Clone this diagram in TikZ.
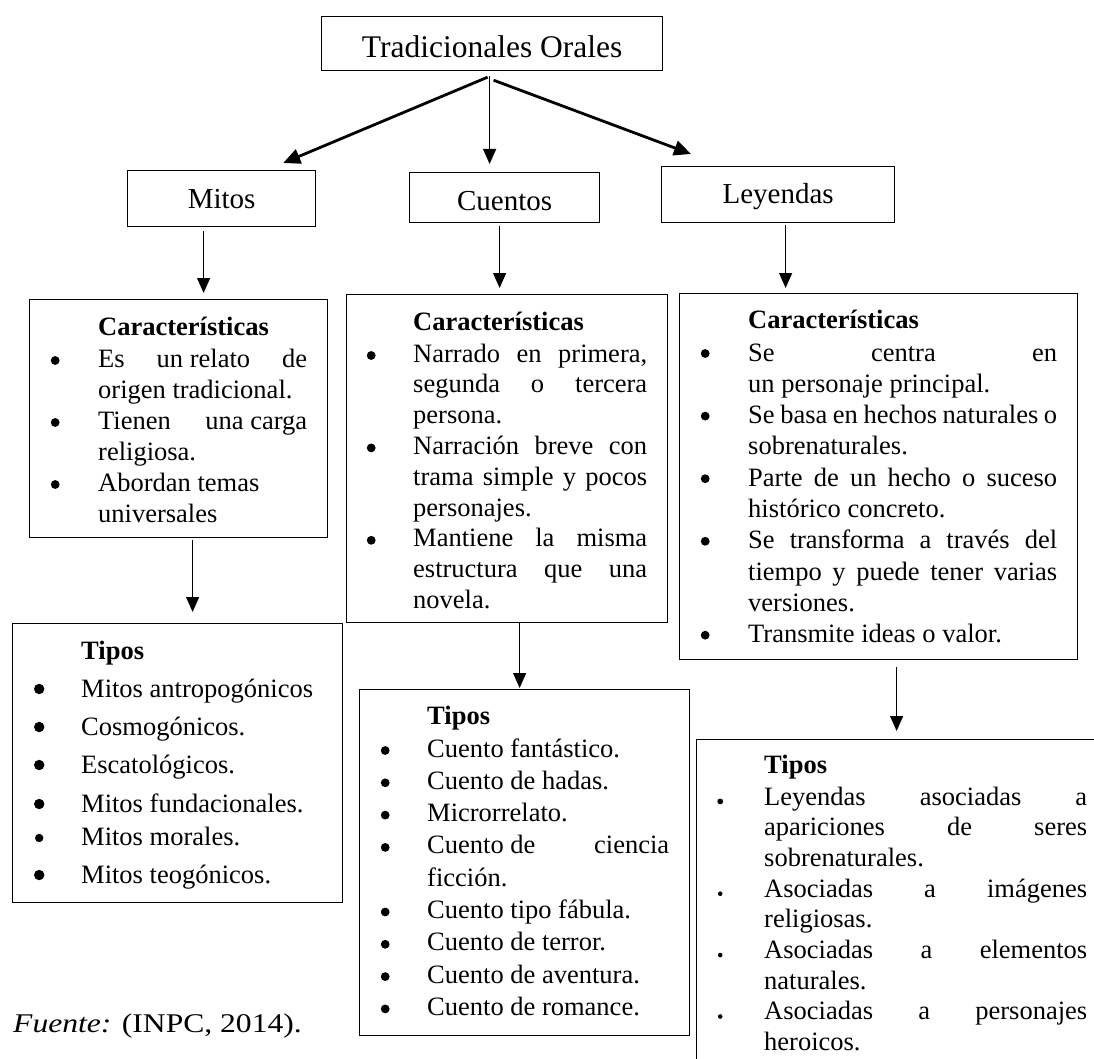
\documentclass[tikz,border=0pt]{standalone}
\usepackage{fontspec}
\setmainfont{Liberation Serif}
\usetikzlibrary{arrows.meta}
% bullet: #1 offset left of text, #2 height of centre above baseline, #3 radius
\newcommand\bul[3]{\leavevmode\llap{\makebox[0pt]{\tikz[baseline=-#2pt]\fill (0,0) circle (#3pt);}\hspace{#1pt}}}
\newcommand\bb[1][43]{\bul{#1}{6.5}{4.4}}
\newcommand\bbB{\bul{42}{8}{5.2}}
\newcommand\bs{\bul{44}{3.4}{2.3}}
\newcommand\jl[2]{\makebox[#1pt][s]{#2}}
\begin{document}
\begin{tikzpicture}[x=1pt,y=-1pt,
 box/.style={draw, line width=1.2pt, inner sep=0pt, anchor=north west},
 ttl/.style={box, font=\fontsize{29}{29}\selectfont},
 txt/.style={anchor=base west, inner sep=0pt},
 arr/.style={line width=1.2pt, -{Triangle[length=15pt,width=13pt]}},
 arrT/.style={line width=2.8pt, -{Triangle[length=17pt,width=15pt]}},
]
\useasboundingbox (0,0) rectangle (1094,1059);
\clip (0,0) rectangle (1094,1059);
\fill[white] (0,0) rectangle (1094,1059);

% header boxes
\node[ttl, font=\fontsize{31.5}{31.5}\selectfont, minimum width=341pt, text height=41pt, text depth=13pt] (top) at (321,16) {Tradicionales Orales};
\node[ttl, minimum width=188pt, text height=38pt, text depth=18pt] (mitos) at (127,170) {Mitos};
\node[ttl, minimum width=190pt, text height=38pt, text depth=12pt] (cuentos) at (409,172) {Cuentos};
\node[ttl, minimum width=233pt, text height=37pt, text depth=19pt] (leyendas) at (661,166) {Leyendas};

% content boxes
\node[box, minimum width=298pt, minimum height=238pt] (mitosC) at (29,299) {};
\node[box, minimum width=330pt, minimum height=279pt] (mitosT) at (12,623) {};
\node[box, minimum width=321pt, minimum height=328pt] (cuentosC) at (346,294) {};
\node[box, minimum width=330pt, minimum height=346pt] (cuentosT) at (359,689) {};
\node[box, minimum width=398pt, minimum height=366pt] (leyendasC) at (679,293) {};
\node[box, minimum width=420pt, minimum height=340pt] (leyendasT) at (696,739) {};

% texts
\node[txt] (mitosCt) at (98,335) {\parbox[t]{240pt}{\fontsize{26.5}{31}\selectfont\raggedright
\textbf{Características}\\[1pt]
\bb\jl{209}{Es\hfill un relato\hfill de}\\
origen tradicional.\\
\bb\jl{209}{Tienen\hfill una carga}\\
religiosa.\\
\bb Abordan temas\\
universales}};

\node[txt] (cuentosCt) at (413,330) {\parbox[t]{250pt}{\fontsize{26.5}{30.8}\selectfont\raggedright
\textbf{Características}\\[1.2pt]
\bb[42]\jl{234}{Narrado en primera,}\\
\jl{234}{segunda o tercera}\\
persona.\\
\bb[42]\jl{234}{Narración breve con}\\
\jl{234}{trama simple y pocos}\\
personajes.\\
\bb[42]\jl{234}{Mantiene la misma}\\
\jl{234}{estructura que una}\\
novela.}};

\node[txt] (leyendasCt) at (748,328) {\parbox[t]{320pt}{\fontsize{26.5}{31.3}\selectfont\raggedright
\textbf{Características}\\[1.7pt]
\bul{43}{7.5}{4.4}\jl{309}{Se\hfill centra\hfill en}\\
un personaje principal.\\
\bul{43}{7.5}{4.4}\jl{309}{Se basa en hechos naturales o}\\
sobrenaturales.\\
\bul{43}{7.5}{4.4}\jl{309}{Parte de un hecho o suceso}\\
histórico concreto.\\
\bul{43}{7.5}{4.4}\jl{309}{Se transforma a través del}\\
\jl{309}{tiempo y puede tener varias}\\
versiones.\\
\bul{43}{7.5}{4.4}Transmite ideas o valor.}};

\node[txt] (mitosTt) at (81,659) {\parbox[t]{260pt}{\fontsize{26.5}{38}\selectfont\raggedright
\textbf{Tipos}\\
\bbB Mitos antropogónicos\\
\bbB Cosmogónicos.\\
\bbB Escatológicos.\\[1pt]
\bbB Mitos fundacionales.\\[-5pt]
\bul{42}{7}{4.2}Mitos morales.\\
\bbB Mitos teogónicos.}};

\node[txt] (cuentosTt) at (427,724) {\parbox[t]{250pt}{\fontsize{26.5}{32.3}\selectfont\raggedright
\textbf{Tipos}\\[0.7pt]
\bb[42]Cuento fantástico.\\
\bb[42]Cuento de hadas.\\
\bb[42]Microrrelato.\\
\bb[42]\jl{242}{Cuento de\hfill ciencia}\\
ficción.\\
\bb[42]Cuento tipo fábula.\\
\bb[42]Cuento de terror.\\
\bb[42]Cuento de aventura.\\
\bb[42]Cuento de romance.}};

\node[txt] (leyendasTt) at (764,773) {\parbox[t]{330pt}{\fontsize{26.5}{30.7}\selectfont\raggedright
\textbf{Tipos}\\[1.3pt]
\bul{44}{3.6}{2.9}\jl{323}{Leyendas asociadas a}\\
\jl{323}{apariciones de seres}\\
sobrenaturales.\\
\bs\jl{323}{Asociadas a imágenes}\\
religiosas.\\
\bs\jl{323}{Asociadas a elementos}\\
naturales.\\
\bs\jl{323}{Asociadas a personajes}\\
heroicos.}};

\node[txt] (fuente) at (13,1032) {\fontsize{27}{27}\selectfont\scalebox{1.17}[1]{\textit{Fuente:} (INPC, 2014).}};

% connectors
\draw[arrT] ([xshift=-4.5pt,yshift=-6pt]top.south) -- ([xshift=-33pt,yshift=7pt]mitos.north east);
\draw[arr] ([xshift=-2.5pt,yshift=-5pt]top.south) -- ([xshift=-15pt,yshift=8pt]cuentos.north);
\draw[arrT] ([xshift=1.5pt,yshift=-9pt]top.south) -- ([xshift=30pt,yshift=12pt]leyendas.north west);

\draw[arr] ([xshift=-18pt,yshift=-4pt]mitos.south) -- ([xshift=25pt,yshift=6pt]mitosC.north);
\draw[arr] ([xshift=14pt,yshift=-2pt]mitosC.south) -- ([xshift=15pt,yshift=11pt]mitosT.north);
\draw[arr] ([xshift=-5pt,yshift=-3pt]cuentos.south) -- ([xshift=-7.5pt,yshift=6pt]cuentosC.north);
\draw[arr] ([xshift=12.5pt]cuentosC.south) -- ([xshift=-5pt,yshift=1pt]cuentosT.north);
\draw[arr] ([xshift=7.5pt,yshift=-2pt]leyendas.south) -- ([xshift=-93pt,yshift=5pt]leyendasC.north);
\draw[arr] ([xshift=18pt,yshift=-7pt]leyendasC.south) -- ([xshift=-10pt,yshift=8pt]leyendasT.north);
\end{tikzpicture}
\end{document}
